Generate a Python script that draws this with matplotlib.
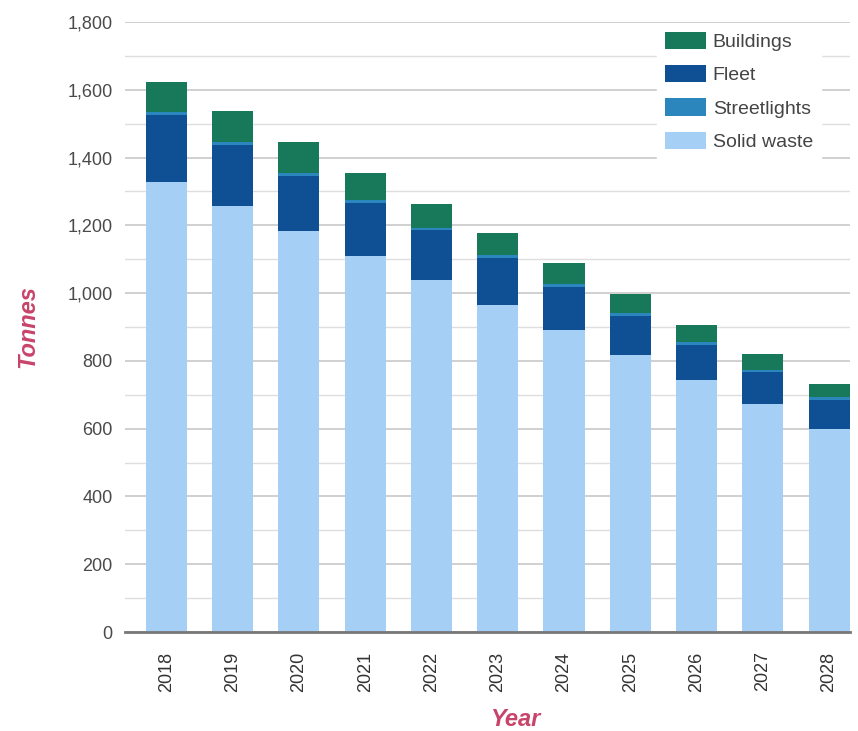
import numpy as np
import matplotlib
matplotlib.use("Agg")
import matplotlib.pyplot as plt
from matplotlib.ticker import MultipleLocator, FuncFormatter

plt.rcParams['font.family'] = ['Liberation Sans', 'DejaVu Sans']

# --- data (tonnes) ---
years = ["2018", "2019", "2020", "2021", "2022", "2023", "2024", "2025", "2026", "2027", "2028"]
solid_waste = [1328, 1258, 1183, 1109, 1039, 965, 891, 817, 744, 672, 598]
streetlights = [8, 8, 8, 8, 8, 8, 8, 8, 8, 7, 6]
fleet = [197, 179, 163, 158, 146, 138, 128, 116, 104, 94, 88]
buildings = [90, 91, 91, 78, 70, 66, 61, 55, 50, 46, 39]

c_build = "#17785a"
c_fleet = "#0f4f94"
c_street = "#2a86bd"
c_waste = "#a6cff5"

fig = plt.figure(figsize=(8.58, 7.31), dpi=100)
ax = fig.add_axes([0.146, 0.1354, 0.845, 0.8346])

x = np.arange(len(years))
sw = np.array(solid_waste)
sl = np.array(streetlights)
fl = np.array(fleet)
bd = np.array(buildings)

w = 0.62
b_sw = ax.bar(x, sw, w, color=c_waste, label="Solid waste", zorder=2)
b_fl = ax.bar(x, fl, w, bottom=sw, color=c_fleet, label="Fleet", zorder=2)
b_sl = ax.bar(x, sl, w, bottom=sw + fl, color=c_street, label="Streetlights", zorder=2)
b_bd = ax.bar(x, bd, w, bottom=sw + fl + sl, color=c_build, label="Buildings", zorder=2)

ax.set_ylim(0, 1800)
ax.set_xlim(-0.62, 10.32)
ax.yaxis.set_major_locator(MultipleLocator(200))
ax.yaxis.set_minor_locator(MultipleLocator(100))
ax.yaxis.set_major_formatter(FuncFormatter(lambda v, p: f"{int(v):,}"))
ax.grid(axis="y", which="major", color="#c8c8c8", linewidth=1.2, zorder=0)
ax.grid(axis="y", which="minor", color="#dedede", linewidth=1.0, zorder=0)

for s in ["top", "right", "left"]:
    ax.spines[s].set_visible(False)
ax.spines["bottom"].set_color("#777777")
ax.spines["bottom"].set_linewidth(2)
ax.spines["bottom"].set_zorder(3)

ax.tick_params(axis="y", which="both", length=0, pad=9, labelsize=13, labelcolor="#4a4a4a")
ax.tick_params(axis="x", length=0, pad=14, labelsize=13, labelcolor="#333333")
ax.set_xticks(x)
ax.set_xticklabels(years, rotation=90)

ax.set_ylabel("Tonnes", fontsize=17, fontweight="bold", fontstyle="italic",
              color="#c8446a", labelpad=20)
ax.set_xlabel("Year", fontsize=17, fontweight="bold", fontstyle="italic",
              color="#c8446a")
ax.xaxis.set_label_coords(0.538, -0.125)

leg = ax.legend([b_bd, b_fl, b_sl, b_sw], ["Buildings", "Fleet", "Streetlights", "Solid waste"],
                loc="upper left", bbox_to_anchor=(0.734, 0.997), frameon=True, fontsize=14,
                handlelength=2.1, handleheight=1.0, labelspacing=0.72,
                handletextpad=0.35, borderpad=0.4, borderaxespad=0, fancybox=False)
leg.get_frame().set_edgecolor("white")
leg.get_frame().set_facecolor("white")
leg.get_frame().set_alpha(1)
for t in leg.get_texts():
    t.set_color("#444444")

fig.savefig("out.png", dpi=100)
